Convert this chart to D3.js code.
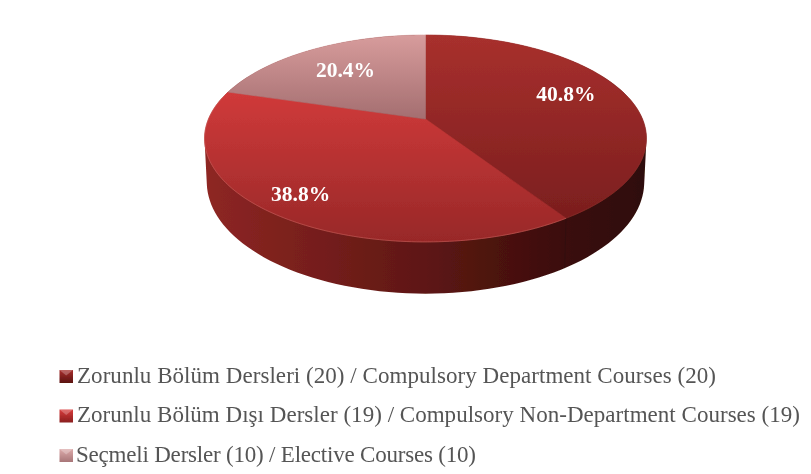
<!DOCTYPE html>
<html>
<head>
<meta charset="utf-8">
<script src="https://cdn.jsdelivr.net/npm/d3@7"></script>
<style>
  html, body { margin: 0; padding: 0; background: #fff; }
  svg { display: block; }
</style>
</head>
<body>
<svg id="chart" width="811" height="474"></svg>
<script>
const categories = [
  'Zorunlu Bölüm Dersleri (20) / Compulsory Department Courses (20)',
  'Zorunlu Bölüm Dışı Dersler (19) / Compulsory Non-Department Courses (19)',
  'Seçmeli Dersler (10) / Elective Courses (10)'
];
const values = [20, 19, 10];
const percentLabels = ['40.8%', '38.8%', '20.4%'];
const topColors = [['#a8302d', '#7b1e1e'], ['#d03a3a', '#982828'], ['#d79c9c', '#a46e70']];
const keyColors = [['#a8302e', '#5a1210'], ['#d83c3c', '#8a1e1e'], ['#dcaaaa', '#a87678']];
const labelRadius = [0.70, 0.84, 0.68];
const labelDy = [1, 5, 7];

const svg = d3.select('#chart');
const defs = svg.append('defs');

// tilted disc: homography from the unit circle to the screen
const cx = 425.5, apexY = 119, R = 217, A = 99.8, k = -0.188, depth = 50;
const project = (angle, r = 1, drop = 0) => {
  const u = r * Math.sin(angle), v = -r * Math.cos(angle);
  const w = 1 + k * v;
  const shrink = 1 - 0.01 * drop / depth;
  return [cx + shrink * R * u / w, apexY + A * v / w + drop * 0.84 / w];
};

const arcs = d3.pie().sort(null)(values);
const samples = (a) => d3.range(0, 121).map(i => a.startAngle + (a.endAngle - a.startAngle) * i / 120);
const line = d3.line();

const blur = defs.append('filter').attr('id', 'soft')
  .attr('x', '-5%').attr('y', '-5%').attr('width', '110%').attr('height', '110%');
blur.append('feGaussianBlur').attr('stdDeviation', 0.6);

const textBlur = defs.append('filter').attr('id', 'softText')
  .attr('x', '-5%').attr('y', '-20%').attr('width', '110%').attr('height', '140%');
textBlur.append('feGaussianBlur').attr('stdDeviation', 0.4);

const vertical = (id, c0, c1) => {
  const g = defs.append('linearGradient').attr('id', id)
    .attr('x1', 0).attr('x2', 0).attr('y1', 0).attr('y2', 1);
  g.append('stop').attr('offset', 0).attr('stop-color', c0);
  g.append('stop').attr('offset', 1).attr('stop-color', c1);
};
topColors.forEach((c, i) => vertical(`top${i}`, c[0], c[1]));

const wallGrad = defs.append('linearGradient').attr('id', 'wall').attr('gradientUnits', 'userSpaceOnUse')
  .attr('x1', 205).attr('x2', 646).attr('y1', 0).attr('y2', 0);
[[0, '#8e2623'], [0.5, '#5e1714'], [0.82, '#3a0d09'], [1, '#2e0a07']]
  .forEach(s => wallGrad.append('stop').attr('offset', s[0]).attr('stop-color', s[1]));

const pie = svg.append('g').attr('filter', 'url(#soft)');

// wall: stacked outlines of the whole disc in one path, the top face goes over it
const ring = d3.range(0, 181).map(i => i * Math.PI / 90);
pie.append('path')
  .attr('class', 'wall')
  .attr('fill', 'url(#wall)')
  .attr('d', d3.range(0, depth + 1).map(d => line(ring.map(x => project(x, 1, d))) + 'Z').join(''));

// slight step in the wall where the first slice ends
pie.append('path')
  .attr('fill', 'none')
  .attr('stroke', '#2a0806')
  .attr('stroke-opacity', 0.5)
  .attr('d', line([project(arcs[0].endAngle), project(arcs[0].endAngle, 1, depth)]));

pie.selectAll('path.top').data(arcs).join('path')
  .attr('class', 'top')
  .attr('fill', (a, i) => `url(#top${i})`)
  .attr('stroke', (a, i) => `url(#top${i})`)
  .attr('stroke-width', 0.6)
  .attr('d', a => line([project(0, 0)].concat(samples(a).map(x => project(x)))) + 'Z');

// light edge along the front of the top face
pie.selectAll('path.rim').data(arcs.slice(0, 2)).join('path')
  .attr('class', 'rim')
  .attr('fill', 'none')
  .attr('stroke', '#d06a66')
  .attr('stroke-opacity', (a, i) => i ? 0.5 : 0.15)
  .attr('stroke-width', 1)
  .attr('d', a => line(samples(a).filter(x => Math.cos(x) < 0.25).map(x => project(x))));

// slice labels
svg.append('g').attr('filter', 'url(#softText)')
  .selectAll('text').data(arcs).join('text')
  .attr('transform', (a, i) => {
    const p = project((a.startAngle + a.endAngle) / 2, labelRadius[i]);
    return `translate(${p[0]},${p[1] + labelDy[i]})`;
  })
  .attr('text-anchor', 'middle')
  .attr('font-family', '"Liberation Serif", serif')
  .attr('font-weight', 'bold')
  .attr('font-size', 21.5)
  .attr('fill', '#fff')
  .text((a, i) => percentLabels[i]);

// legend
const legendY = d3.scalePoint().domain(d3.range(categories.length)).range([376.5, 455.5]);
const textLengths = [639, 723, 400];
const legend = svg.append('g').attr('filter', 'url(#softText)');

categories.forEach((c, i) => {
  vertical(`key${i}`, keyColors[i][0], keyColors[i][1]);
  legend.append('rect')
    .attr('x', 59.5).attr('y', legendY(i) - 6.5)
    .attr('width', 13.5).attr('height', 13)
    .attr('fill', `url(#key${i})`);
  legend.append('path')
    .attr('d', d3.line()([[59.5, legendY(i) - 6.5], [66.2, legendY(i) - 1], [73, legendY(i) - 6.5]]))
    .attr('fill', '#fff').attr('fill-opacity', 0.25);
  legend.append('text')
    .attr('x', i === 2 ? 76 : 77)
    .attr('y', legendY(i) + 6)
    .attr('font-family', '"Liberation Serif", serif')
    .attr('font-size', 23)
    .attr('fill', '#555')
    .attr('textLength', textLengths[i])
    .attr('lengthAdjust', 'spacing')
    .text(c);
});
</script>
</body>
</html>
